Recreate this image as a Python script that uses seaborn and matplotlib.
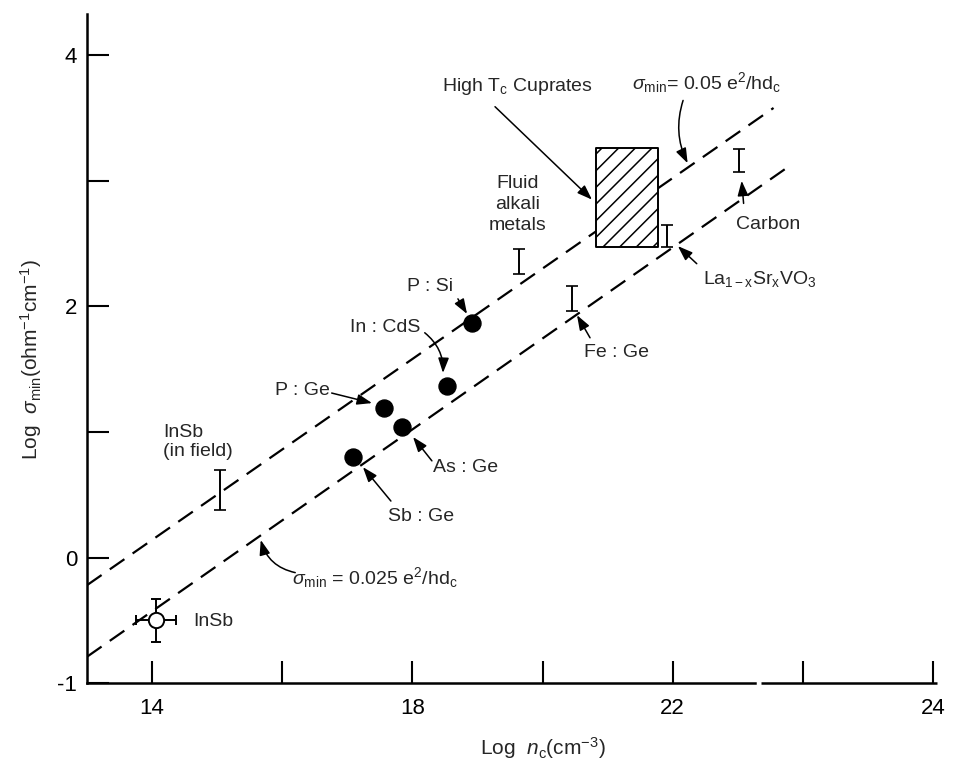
import numpy as np
import pandas as pd
import matplotlib.pyplot as plt
import seaborn as sns

# doped semiconductors (filled circles)
dopant = ['P : Si', 'In : CdS', 'P : Ge', 'As : Ge', 'Sb : Ge']
dopant_lognc = [18.91, 18.53, 17.56, 17.84, 17.09]
dopant_logsig = [1.87, 1.37, 1.19, 1.04, 0.80]

# systems shown as a range bar only
range_name = ['InSb\n(in field)', 'Fluid\nalkali\nmetals', 'Fe : Ge', r'La$_{\rm 1-x}$Sr$_{\rm x}$VO$_3$', 'Carbon']
range_lognc = [15.04, 19.64, 20.45, 21.92, 23.02]
range_logsig = [0.54, 2.36, 2.06, 2.56, 3.16]
range_err = [0.16, 0.10, 0.10, 0.09, 0.09]

# InSb, open circle with error bars
insb_lognc = [14.06]
insb_logsig = [-0.50]
insb_xerr = [0.31]
insb_yerr = [0.17]

# high Tc cuprates region
cuprate_lognc = [20.82, 21.77]
cuprate_logsig = [2.47, 3.26]

# sigma_min lines (end points)
line_lognc = [13.0, 23.55, 13.0, 23.80]
line_logsig = [-0.22, 3.58, -0.79, 3.12]
line_name = ['0.05', '0.05', '0.025', '0.025']

sns.set_style('white')
plt.rcParams['font.family'] = ['Liberation Sans', 'DejaVu Sans']
plt.rcParams['mathtext.fontset'] = 'custom'
plt.rcParams['mathtext.rm'] = 'Liberation Sans'
plt.rcParams['mathtext.it'] = 'Liberation Sans:italic'
plt.rcParams['hatch.linewidth'] = 1.1

fig = plt.figure(figsize=(9.56, 7.65), dpi=100)
ax = fig.add_axes([0.091, 0.107, 0.889, 0.875])

lines = pd.DataFrame({'x': line_lognc, 'y': line_logsig, 'line': line_name})
sns.lineplot(data=lines, x='x', y='y', hue='line', style='line',
             palette={'0.05': 'black', '0.025': 'black'},
             dashes={'0.05': (8, 4.5), '0.025': (8, 4.5)},
             lw=1.6, legend=False, ax=ax, zorder=1)

ax.fill_between(cuprate_lognc, cuprate_logsig[0], cuprate_logsig[1],
                facecolor='white', edgecolor='black', hatch='//', lw=1.4, zorder=2)

sns.scatterplot(x=dopant_lognc, y=dopant_logsig, s=150, color='black',
                edgecolor='black', ax=ax, zorder=3)

ax.errorbar(range_lognc, range_logsig, yerr=range_err, fmt='none',
            ecolor='black', elinewidth=1.4, capsize=4, capthick=1.2, zorder=3)

ax.errorbar(insb_lognc, insb_logsig, xerr=insb_xerr, yerr=insb_yerr, fmt='o',
            ms=11, mfc='white', mec='black', mew=1.4, ecolor='black',
            elinewidth=1.4, capsize=3.5, capthick=1.4, zorder=3)

fs = 14
arrow = dict(arrowstyle='-|>,head_length=0.5,head_width=0.18', color='black',
             lw=1.1, mutation_scale=18, shrinkA=0, shrinkB=0)

def note(text, xy_text, ha='left', ls=1.2):
    ax.text(xy_text[0], xy_text[1], text, fontsize=fs, va='center', ha=ha,
            linespacing=ls, zorder=4)

def arr(tail, head, rad=0.0):
    ap = dict(arrow)
    if rad:
        ap['connectionstyle'] = 'arc3,rad=%s' % rad
    ax.annotate('', xy=head, xytext=tail, arrowprops=ap, zorder=4)

# labels
note(r'High T$_{\rm c}$ Cuprates', (18.45, 3.75))
arr((19.27, 3.59), (20.76, 2.85))
note(r'$\sigma_{\rm min}$= 0.05 e$^2$/hd$_{\rm c}$', (21.37, 3.78))
arr((22.16, 3.64), (22.23, 3.14), rad=0.2)
note(range_name[1], (19.62, 2.81), ha='center', ls=1.3)
note(range_name[4], (22.98, 2.65))
arr((23.09, 2.82), (23.06, 3.00))
note(range_name[3], (22.46, 2.22))
arr((22.37, 2.34), (22.08, 2.48))
note(range_name[2], (20.63, 1.63))
arr((20.73, 1.75), (20.53, 1.93))
note(dopant[0], (17.92, 2.16))
arr((18.70, 2.06), (18.84, 1.94))
note(dopant[1], (17.04, 1.83))
arr((18.19, 1.79), (18.47, 1.47), rad=-0.25)
note(dopant[2], (15.89, 1.33))
arr((16.76, 1.31), (17.38, 1.23))
note(dopant[3], (18.31, 0.72))
arr((18.30, 0.77), (18.01, 0.96))
note(dopant[4], (17.62, 0.33))
arr((17.67, 0.45), (17.24, 0.72))
note(r'$\sigma_{\rm min}$ = 0.025 e$^2$/hd$_{\rm c}$', (16.15, -0.16))
arr((16.20, -0.12), (15.67, 0.14), rad=-0.3)
note(range_name[0], (14.17, 0.92), ls=1.1)
note('InSb', (14.63, -0.51))

# axes
ax.set_xlim(13, 26.06)
ax.set_ylim(-1, 4.33)
ax.set_xticks([14, 16, 18, 20, 22, 24, 26])
ax.set_xticklabels(['14', '', '18', '', '22', '', '24'])
ax.set_yticks([-1, 0, 1, 2, 3, 4])
ax.set_yticklabels(['-1', '0', '', '2', '', '4'])
ax.tick_params(axis='both', direction='in', length=16, width=1.5, labelsize=16,
               colors='black', bottom=True, left=True)
ax.tick_params(axis='x', pad=11)
ax.tick_params(axis='y', pad=7)

for s in ['top', 'right']:
    ax.spines[s].set_visible(False)
for s in ['left', 'bottom']:
    ax.spines[s].set_linewidth(1.8)
    ax.spines[s].set_color('black')
# axis break on the x axis
ax.spines['bottom'].set_bounds(13, 23.27)
ax.plot([23.36, 26.06], [-1, -1], color='black', lw=1.8, clip_on=False,
        solid_capstyle='butt', zorder=5)

ax.set_xlabel(r'Log  $n_{\rm c}$(cm$^{-3}$)', fontsize=15)
ax.xaxis.set_label_coords(0.536, -0.078)
ax.set_ylabel(r'Log  $\sigma_{\rm min}$(ohm$^{-1}$cm$^{-1}$)', fontsize=15)
ax.yaxis.set_label_coords(-0.051, 0.483)

fig.savefig('out.png', dpi=100)
